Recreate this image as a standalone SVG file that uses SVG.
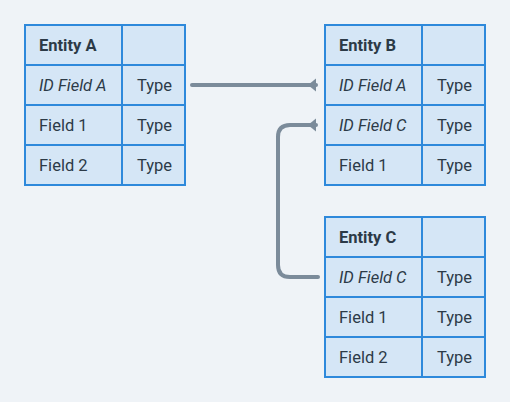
<svg xmlns="http://www.w3.org/2000/svg" width="510" height="402" viewBox="0 0 510 402">
<style>
.bg{fill:#eff3f7}
.cell{fill:#d5e6f6;stroke:#2e89db;stroke-width:2}
.t{font-family:Roboto,"Liberation Sans",sans-serif;font-size:16.5px;fill:#2c3a47}
.h{font-weight:bold}
.i{font-style:italic}
.conn{fill:none;stroke:#7b8b9a;stroke-width:4;stroke-linecap:round}
</style>
<defs>
<marker id="arr" markerUnits="userSpaceOnUse" markerWidth="10" markerHeight="16" refX="9" refY="8" orient="auto">
<path d="M9,1.5 L9,14.5 L1,8 Z" fill="#7b8b9a"/>
</marker>
</defs>
<rect class="bg" width="510" height="402"/>
<g id="connectors">
<path class="conn" d="M192,85 L316,85" marker-end="url(#arr)"/>
<path class="conn" d="M318,277 L290,277 Q278,277 278,265 L278,137 Q278,125 290,125 L316,125" marker-end="url(#arr)"/>
</g>
<g id="entityA">
<rect class="cell" x="25" y="25" width="97" height="40"/>
<rect class="cell" x="122" y="25" width="63" height="40"/>
<rect class="cell" x="25" y="65" width="97" height="40"/>
<rect class="cell" x="122" y="65" width="63" height="40"/>
<rect class="cell" x="25" y="105" width="97" height="40"/>
<rect class="cell" x="122" y="105" width="63" height="40"/>
<rect class="cell" x="25" y="145" width="97" height="40"/>
<rect class="cell" x="122" y="145" width="63" height="40"/>
<text class="t h" x="39" y="51">Entity A</text>
<text class="t i" x="39" y="91">ID Field A</text>
<text class="t" x="137" y="91">Type</text>
<text class="t" x="39" y="131">Field 1</text>
<text class="t" x="137" y="131">Type</text>
<text class="t" x="39" y="171">Field 2</text>
<text class="t" x="137" y="171">Type</text>
</g>
<g id="entityB">
<rect class="cell" x="325" y="25" width="97" height="40"/>
<rect class="cell" x="422" y="25" width="63" height="40"/>
<rect class="cell" x="325" y="65" width="97" height="40"/>
<rect class="cell" x="422" y="65" width="63" height="40"/>
<rect class="cell" x="325" y="105" width="97" height="40"/>
<rect class="cell" x="422" y="105" width="63" height="40"/>
<rect class="cell" x="325" y="145" width="97" height="40"/>
<rect class="cell" x="422" y="145" width="63" height="40"/>
<text class="t h" x="339" y="51">Entity B</text>
<text class="t i" x="339" y="91">ID Field A</text>
<text class="t" x="437" y="91">Type</text>
<text class="t i" x="339" y="131">ID Field C</text>
<text class="t" x="437" y="131">Type</text>
<text class="t" x="339" y="171">Field 1</text>
<text class="t" x="437" y="171">Type</text>
</g>
<g id="entityC">
<rect class="cell" x="325" y="217" width="97" height="40"/>
<rect class="cell" x="422" y="217" width="63" height="40"/>
<rect class="cell" x="325" y="257" width="97" height="40"/>
<rect class="cell" x="422" y="257" width="63" height="40"/>
<rect class="cell" x="325" y="297" width="97" height="40"/>
<rect class="cell" x="422" y="297" width="63" height="40"/>
<rect class="cell" x="325" y="337" width="97" height="40"/>
<rect class="cell" x="422" y="337" width="63" height="40"/>
<text class="t h" x="339" y="243">Entity C</text>
<text class="t i" x="339" y="283">ID Field C</text>
<text class="t" x="437" y="283">Type</text>
<text class="t" x="339" y="323">Field 1</text>
<text class="t" x="437" y="323">Type</text>
<text class="t" x="339" y="363">Field 2</text>
<text class="t" x="437" y="363">Type</text>
</g>
</svg>
